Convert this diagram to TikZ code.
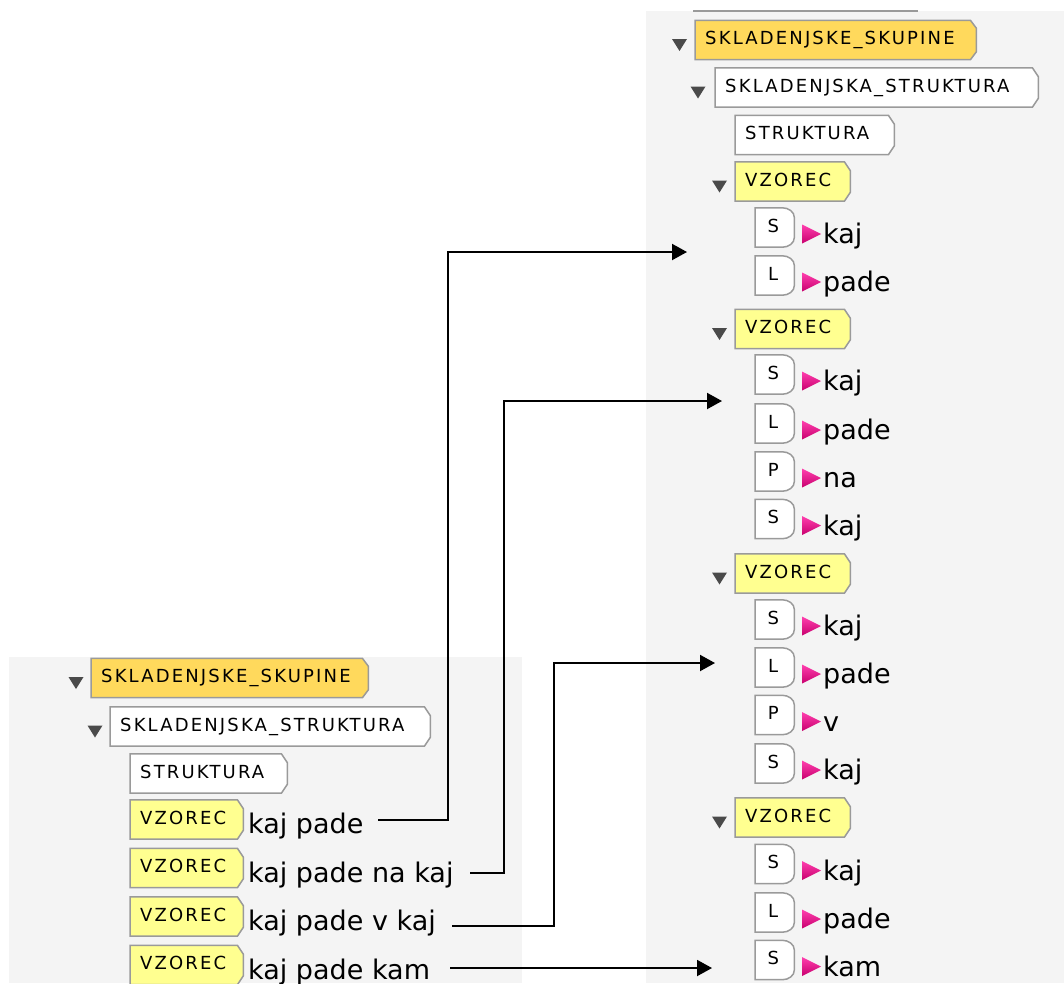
\documentclass[tikz,border=0pt]{standalone}
\usepackage{fontspec}
\newfontfamily\tagfont[LetterSpace=12]{DejaVu Sans}
\newfontfamily\wordfont{DejaVu Sans}
\usetikzlibrary{arrows.meta,calc}
\pgfdeclarelayer{panel}
\pgfdeclarelayer{frame}
\pgfsetlayers{panel,frame,main}

\definecolor{panelgray}{HTML}{F4F4F4}
\definecolor{taggold}{HTML}{FFD95C}
\definecolor{tagyellow}{HTML}{FFFF90}
\definecolor{tagedge}{HTML}{9A9A9A}
\definecolor{pinkhi}{HTML}{FF3FAE}
\definecolor{pinklo}{HTML}{C8006E}
\definecolor{caretcol}{HTML}{4A4A4A}

\tikzset{
  tagnode/.style 2 args={rectangle, anchor=west, inner xsep=10pt, inner ysep=0pt,
    minimum height=39pt, text width=#2, align=left, text height=11pt, text depth=2pt,
    font=\tagfont\fontsize{18}{20}\selectfont},
  letternode/.style={rectangle, anchor=west, inner sep=0pt, minimum width=36pt,
    minimum height=39pt, text height=11pt, text depth=2pt,
    font=\tagfont\fontsize{18}{20}\selectfont},
  wordnode/.style={anchor=base west, inner sep=0pt, font=\wordfont\fontsize{27}{30}\selectfont},
  tagline/.style={draw=tagedge, line width=1.5pt, line join=miter},
  link/.style={draw=black, line width=2pt, -{Triangle[length=15pt,width=16pt]}},
  pinktri/.style={top color=pinkhi, bottom color=pinklo},
}

% frame of a tag: node, fill, chamfer x, chamfer y
\newcommand\tagframe[4]{%
  \begin{pgfonlayer}{frame}
    \path[tagline, fill=#2] (#1.north west) -- ([xshift=-#3]#1.north east)
      -- ([yshift=-#4]#1.north east) -- ([yshift=#4]#1.south east)
      -- ([xshift=-#3]#1.south east) -- (#1.south west) -- cycle;
  \end{pgfonlayer}}

% collapse caret: x centre, row centre
\newcommand\caretmark[2]{%
  \fill[caretcol] ({#1-7.5},{#2-1}) -- ({#1+7.5},{#2-1}) -- (#1,{#2+11}) -- cycle;}

% right-hand word row: name, row centre, letter, word
\newcommand\wordrow[4]{%
  \node[letternode] (#1) at (755,#2) {#3};
  \begin{pgfonlayer}{frame}
    \path[tagline, fill=white] (#1.north west) -- ([xshift=-9pt]#1.north east)
      to[out=0,in=90] ([xshift=3pt,yshift=-10pt]#1.north east) -- ([xshift=3pt,yshift=10pt]#1.south east)
      to[out=-90,in=0] ([xshift=-9pt]#1.south east) -- (#1.south west) -- cycle;
  \end{pgfonlayer}
  \shade[pinktri] (802,{#2-3}) -- (821,{#2+6.5}) -- (802,{#2+16}) -- cycle;
  \node[wordnode] (#1w) at (823,{#2+16}) {#4};}

\begin{document}
\begin{tikzpicture}[x=1pt,y=-1pt]
\useasboundingbox (0,0) rectangle (1064,983);

\begin{pgfonlayer}{panel}
  \fill[panelgray] (646,11) rectangle (1064,983);
  \fill[panelgray] (9,657) rectangle (522,983);
  \draw[tagedge, line width=2pt] (693,11) -- (918,11);
\end{pgfonlayer}

% ---------- right tree ----------
\node[tagnode={281pt}{261pt}] (r0) at (695,40) {SKLADENJSKE\_SKUPINE};
\tagframe{r0}{taggold}{6pt}{8pt}
\caretmark{679.5}{40}
\node[tagnode={323pt}{303pt}] (r1) at (715,87.5) {SKLADENJSKA\_STRUKTURA};
\tagframe{r1}{white}{6pt}{9pt}
\caretmark{698}{87.5}
\node[tagnode={159pt}{139pt}] (r2) at (735,135) {STRUKTURA};
\tagframe{r2}{white}{6pt}{9pt}

\node[tagnode={115pt}{95pt}] (v1) at (735,181.5) {VZOREC};
\tagframe{v1}{tagyellow}{6pt}{9pt}
\caretmark{719.5}{181.5}
\wordrow{a1}{227.5}{S}{kaj}
\wordrow{a2}{275.5}{L}{pade}

\node[tagnode={115pt}{95pt}] (v2) at (735,329) {VZOREC};
\tagframe{v2}{tagyellow}{6pt}{9pt}
\caretmark{719.5}{329}
\wordrow{b1}{374.5}{S}{kaj}
\wordrow{b2}{423.5}{L}{pade}
\wordrow{b3}{471.5}{P}{na}
\wordrow{b4}{519}{S}{kaj}

\node[tagnode={115pt}{95pt}] (v3) at (735,573.5) {VZOREC};
\tagframe{v3}{tagyellow}{6pt}{9pt}
\caretmark{719.5}{573.5}
\wordrow{c1}{619.5}{S}{kaj}
\wordrow{c2}{667.5}{L}{pade}
\wordrow{c3}{715}{P}{v}
\wordrow{c4}{763.5}{S}{kaj}

\node[tagnode={115pt}{95pt}] (v4) at (735,817.5) {VZOREC};
\tagframe{v4}{tagyellow}{6pt}{9pt}
\caretmark{719.5}{817.5}
\wordrow{d1}{864}{S}{kaj}
\wordrow{d2}{912.5}{L}{pade}
\wordrow{d3}{960}{S}{kam}

% ---------- left tree ----------
\node[tagnode={277pt}{257pt}] (l0) at (91,678) {SKLADENJSKE\_SKUPINE};
\tagframe{l0}{taggold}{6pt}{8pt}
\caretmark{76}{678}
\node[tagnode={320pt}{300pt}] (l1) at (110,726.5) {SKLADENJSKA\_STRUKTURA};
\tagframe{l1}{white}{6pt}{9pt}
\caretmark{95}{726.5}
\node[tagnode={157pt}{137pt}] (l2) at (130,773.5) {STRUKTURA};
\tagframe{l2}{white}{6pt}{9pt}

\node[tagnode={113pt}{93pt}] (l3) at (130,819.5) {VZOREC};
\tagframe{l3}{tagyellow}{6pt}{9pt}
\node[wordnode] (lw3) at (248,833.5) {kaj pade};
\node[tagnode={113pt}{93pt}] (l4) at (130,868) {VZOREC};
\tagframe{l4}{tagyellow}{6pt}{9pt}
\node[wordnode] (lw4) at (248,882) {kaj pade na kaj};
\node[tagnode={113pt}{93pt}] (l5) at (130,916.5) {VZOREC};
\tagframe{l5}{tagyellow}{6pt}{9pt}
\node[wordnode] (lw5) at (248,930.5) {kaj pade v kaj};
\node[tagnode={113pt}{93pt}] (l6) at (130,965) {VZOREC};
\tagframe{l6}{tagyellow}{6pt}{9pt}
\node[wordnode] (lw6) at (248,979) {kaj pade kam};

% ---------- links ----------
\coordinate (s1) at (378,820);
\coordinate (e1) at (687,252);
\coordinate (s2) at (470,873);
\coordinate (e2) at (722,401);
\coordinate (s3) at (452,926);
\coordinate (e3) at (715,663);
\coordinate (s4) at (450,968);
\coordinate (e4) at (712,968);
\draw[link] (s1) -- ++(70,0) |- (e1);
\draw[link] (s2) -- ++(34,0) |- (e2);
\draw[link] (s3) -- ++(102,0) |- (e3);
\draw[link] (s4) -- (e4);
\end{tikzpicture}
\end{document}
